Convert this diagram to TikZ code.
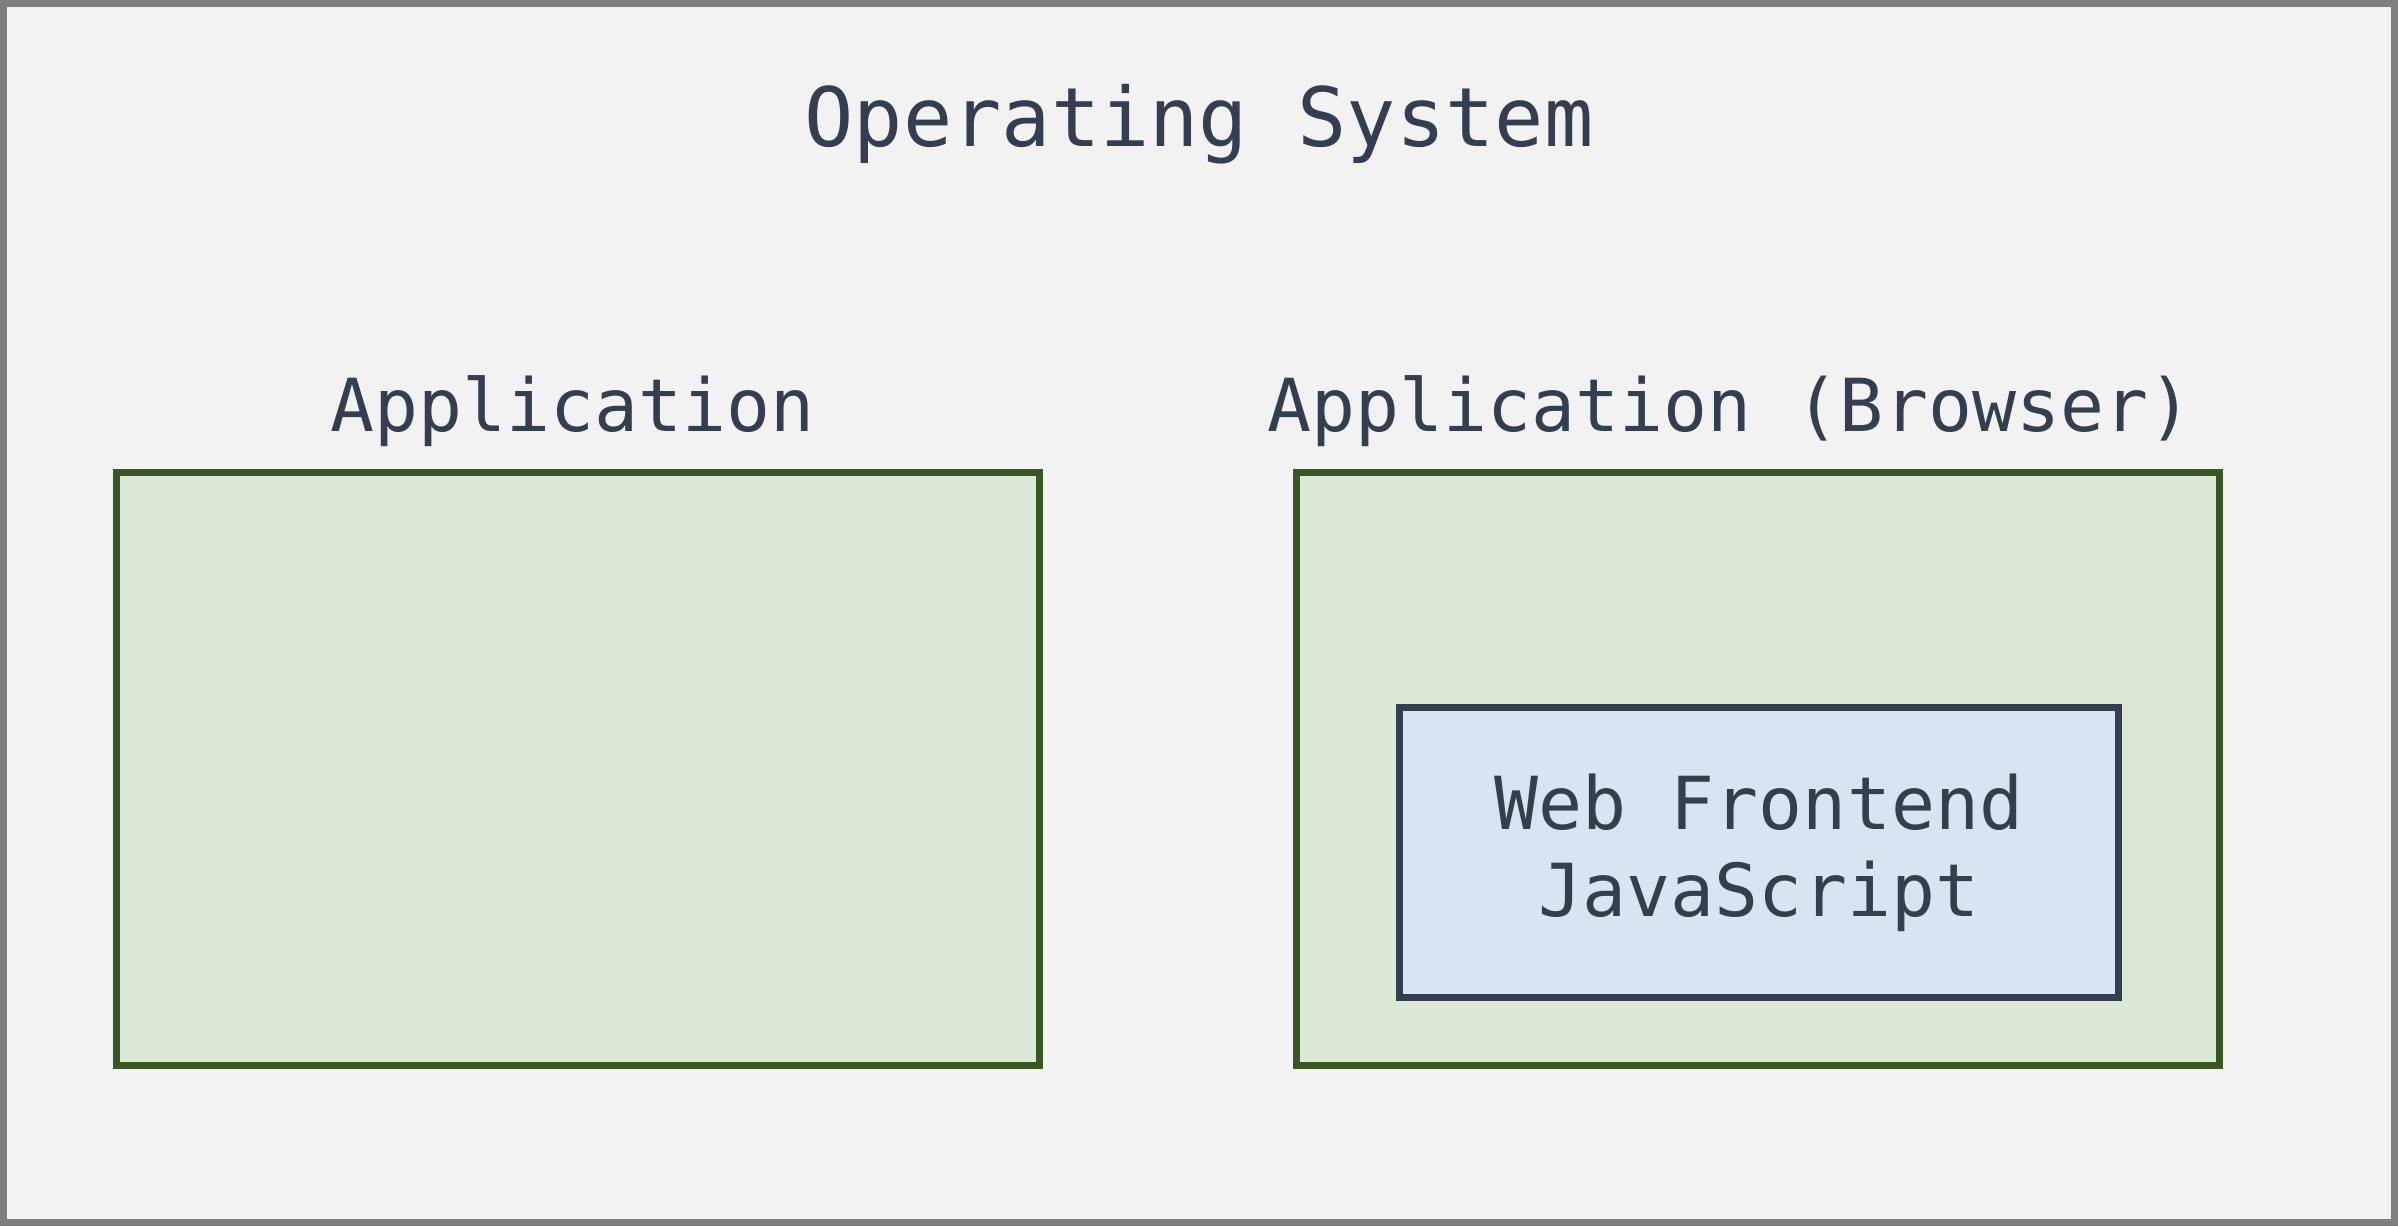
\documentclass[tikz,border=0pt]{standalone}
\usepackage{fontspec}
\newfontfamily\diagfont{DejaVu Sans Mono}
\definecolor{osfill}{HTML}{F2F2F2}
\definecolor{osline}{HTML}{7F7F7F}
\definecolor{appfill}{HTML}{DAE8D5}
\definecolor{appline}{HTML}{385723}
\definecolor{webfill}{HTML}{DAE3F3}
\definecolor{inkdark}{HTML}{333F50}
\begin{document}
\begin{tikzpicture}[appbox/.style={draw=appline,fill=appfill,line width=0.07cm,
  inner sep=0pt,minimum width=9.23cm,minimum height=5.93cm},
  webbox/.style={draw=inkdark,fill=webfill,line width=0.07cm,inner sep=0pt,
  minimum width=7.19cm,minimum height=2.90cm,align=center,text=inkdark,
  font=\diagfont\fontsize{20.8}{24.7}\selectfont},
  lbl/.style={anchor=base,text=inkdark,inner sep=0pt,
  font=\diagfont\fontsize{20.8}{25}\selectfont}]
\useasboundingbox (0,0) rectangle (23.98,12.26);
\draw[osline,fill=osfill,line width=0.07cm] (0.035,0.035) rectangle (23.945,12.225);
\node[lbl,font=\diagfont\fontsize{23.3}{28}\selectfont] (os) at (11.99,10.79)
  {Operating System};
\node[appbox] (app) at (5.78,4.57) {};
\node[appbox] (browser) at (17.58,4.57) {};
\node[lbl] (applbl) at (5.725,7.94) {Application};
\node[lbl] (browserlbl) at (17.30,7.94) {Application (Browser)};
\node[webbox] (web) at (17.59,3.735) {Web Frontend\\JavaScript};
\end{tikzpicture}
\end{document}
